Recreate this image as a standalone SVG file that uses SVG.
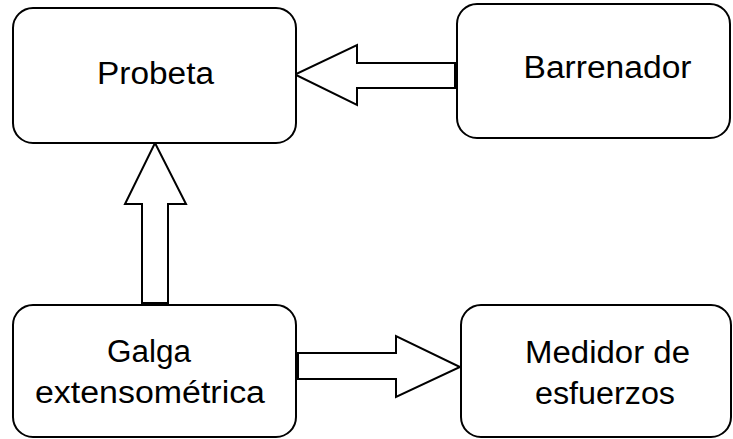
<svg xmlns="http://www.w3.org/2000/svg" width="733" height="439" viewBox="0 0 733 439">
<style>
.box{fill:#fff;stroke:#000;stroke-width:2}
.arr{fill:#fff;stroke:#000;stroke-width:2;stroke-linejoin:miter}
.t{font-family:"Liberation Sans",Arial,sans-serif;font-size:31px;fill:#000;text-anchor:middle}
</style>
<rect width="733" height="439" fill="#fff"/>
<g id="connectors">
<polygon class="arr" points="455,63 357,63 357,45 295,74.5 357,105 357,88 455,88"/>
<polygon class="arr" points="142,303 142,204 125,204 155,143 186,204 168,204 168,303"/>
<polygon class="arr" points="298,353 396,353 396,336 460,367 396,397 396,379 298,379"/>
</g>
<g id="probeta">
<rect class="box" x="13" y="8" width="283" height="135" rx="20"/>
<text class="t" x="155.5" y="84" textLength="117" lengthAdjust="spacingAndGlyphs">Probeta</text>
</g>
<g id="barrenador">
<rect class="box" x="457" y="4" width="273" height="134" rx="20"/>
<text class="t" x="607.5" y="77.5" textLength="168" lengthAdjust="spacingAndGlyphs">Barrenador</text>
</g>
<g id="galga">
<rect class="box" x="13" y="305" width="283" height="132" rx="20"/>
<text class="t" x="149" y="362" textLength="84" lengthAdjust="spacingAndGlyphs">Galga</text>
<text class="t" x="150" y="403" textLength="230" lengthAdjust="spacingAndGlyphs">extensométrica</text>
</g>
<g id="medidor">
<rect class="box" x="461" y="305" width="270" height="132" rx="20"/>
<text class="t" x="607.5" y="363" textLength="165" lengthAdjust="spacingAndGlyphs">Medidor de</text>
<text class="t" x="605" y="404" textLength="140" lengthAdjust="spacingAndGlyphs">esfuerzos</text>
</g>
</svg>
